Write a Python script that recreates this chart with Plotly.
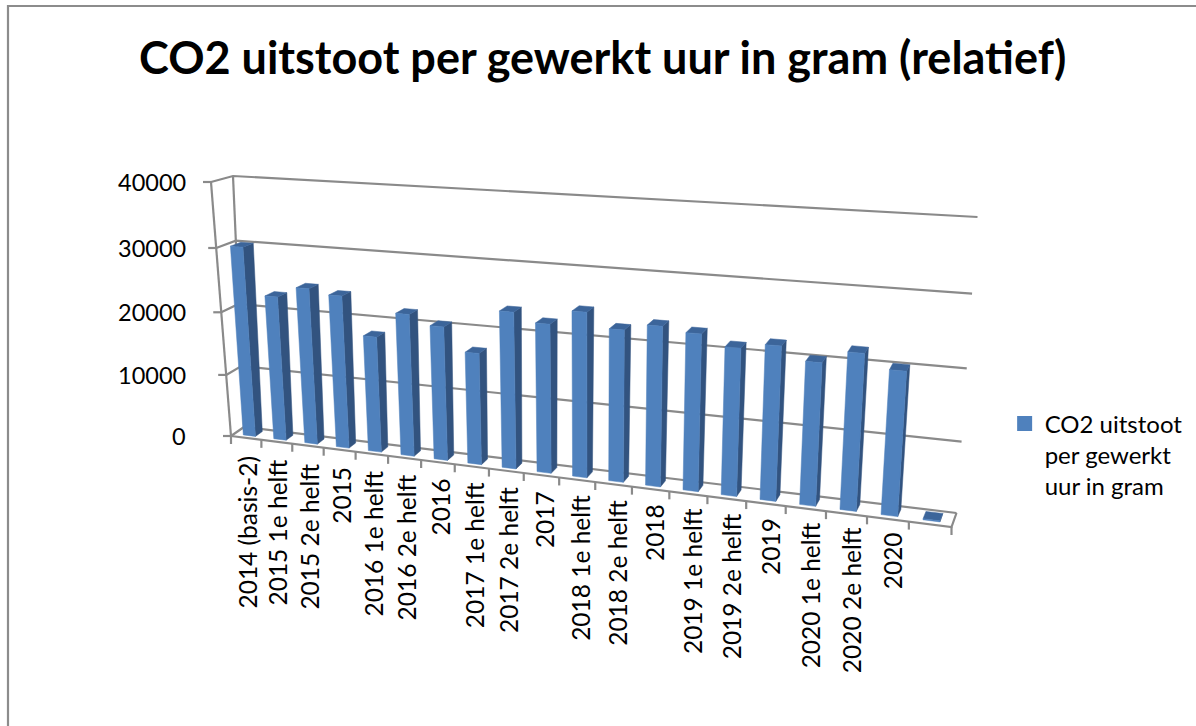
import numpy as np
import plotly.graph_objects as go

categories = ["2014 (basis-2)", "2015 1e helft", "2015 2e helft", "2015",
              "2016 1e helft", "2016 2e helft", "2016",
              "2017 1e helft", "2017 2e helft", "2017",
              "2018 1e helft", "2018 2e helft", "2018",
              "2019 1e helft", "2019 2e helft", "2019",
              "2020 1e helft", "2020 2e helft", "2020", ""]
co2_values = [30100, 22800, 24500, 23800, 18000, 21900, 20500, 17000, 23600, 22300,
              24500, 22400, 23400, 22800, 21300, 22100, 20300, 22100, 20200, 150]
value_ticks = [0, 10000, 20000, 30000, 40000]
series_name = "CO2 uitstoot<br>per gewerkt<br>uur in gram"
title_text = "CO2 uitstoot per gewerkt uur in gram (relatief)"

VMAX = value_ticks[-1]
FONT = "Lato"
N = len(categories)
GRID = "#8a8a8a"


def homography(corners):
    """unit square (t, u) -> pixel plane; corners: (0,0), (1,0), (1,1), (0,1)."""
    src = [(0, 0), (1, 0), (1, 1), (0, 1)]
    A, b = [], []
    for (s, u), (x, y) in zip(src, corners):
        A.append([s, u, 1, 0, 0, 0, -s * x, -u * x])
        A.append([0, 0, 0, s, u, 1, -s * y, -u * y])
        b += [x, y]
    return np.append(np.linalg.solve(np.array(A, float), np.array(b, float)), 1).reshape(3, 3)


H_FRONT = homography([(231, 436), (951.5, 527), (973.5, 226), (211, 182)])
H_BACK = homography([(244, 427), (956.5, 513), (977.5, 217), (233, 176)])


def project(t, v, d):
    """t: 0..1 along categories, v: value, d: 0 front .. 1 back."""
    out = []
    for H in (H_FRONT, H_BACK):
        p = H @ np.array([t, v / VMAX, 1.0])
        out.append(p[:2] / p[2])
    return tuple(out[0] * (1 - d) + out[1] * d)


def poly(points):
    xs, ys = zip(*points)
    return list(xs) + [xs[0], None], list(ys) + [ys[0], None]


fig = go.Figure()


def line(points, width=2.2, color=GRID):
    xs, ys = zip(*points)
    fig.add_trace(go.Scatter(x=xs, y=ys, mode="lines", showlegend=False, hoverinfo="skip",
                             line=dict(color=color, width=width)))


# frame of the chart area
line([(8, 726), (8, 6), (1196, 6)], 2.2, "#8c8c8c")

# walls and floor
for v in value_ticks:
    line([project(0, v, 0), project(0, v, 1), project(1, v, 1)])
    fx, fy = project(0, v, 0)
    line([(fx - 8, fy), (fx, fy)])
line([project(0, 0, 0), project(0, VMAX, 0)])
line([project(0, 0, 1), project(0, VMAX, 1)])
line([project(0, 0, 0), project(1, 0, 0), project(1, 0, 1)])
for i in range(N + 1):
    tx, ty = project(i / N, 0, 0)
    line([(tx, ty), (tx, ty + 8)])

# bars
D0, D1 = 0.25, 0.78
WIDTH = 0.4
fronts, sides, tops = ([], []), ([], []), ([], [])
for i, v in enumerate(co2_values):
    t0 = (i + 0.5 - WIDTH / 2) / N
    t1 = (i + 0.5 + WIDTH / 2) / N
    for store, pts in (
        (fronts, [project(t0, 0, D0), project(t1, 0, D0), project(t1, v, D0), project(t0, v, D0)]),
        (sides, [project(t1, 0, D0), project(t1, 0, D1), project(t1, v, D1), project(t1, v, D0)]),
        (tops, [project(t0, v, D0), project(t1, v, D0), project(t1, v, D1), project(t0, v, D1)]),
    ):
        xs, ys = poly(pts)
        store[0].extend(xs)
        store[1].extend(ys)

for store, color in ((sides, "#32537f"), (tops, "#3c659a"), (fronts, "#4f81bd")):
    fig.add_trace(go.Scatter(x=store[0], y=store[1], mode="lines", fill="toself", fillcolor=color,
                             line=dict(color=color, width=0.5), showlegend=False, hoverinfo="skip"))

# legend entry
fig.add_trace(go.Scatter(x=[None], y=[None], mode="markers", name=series_name,
                         marker=dict(symbol="square", size=15, color="#4f81bd")))

annotations = []
for v in value_ticks:
    fx, fy = project(0, v, 0)
    annotations.append(dict(x=188, y=fy, text=str(v), showarrow=False, xanchor="right",
                            yanchor="middle", font=dict(family=FONT, size=23.5, color="#000")))
for i, c in enumerate(categories):
    if not c:
        continue
    tx, ty = project((i + 0.5) / N, 0, 0)
    annotations.append(dict(x=tx + 1 + 5 * i / N, y=ty + 16 - 5 * i / N, text=c, showarrow=False, textangle=-90,
                            xanchor="center", yanchor="top",
                            font=dict(family=FONT, size=24.5, color="#000")))

fig.update_layout(
    width=1196, height=726, margin=dict(l=0, r=0, t=0, b=0),
    paper_bgcolor="white", plot_bgcolor="white",
    xaxis=dict(range=[0, 1196], visible=False, fixedrange=True),
    yaxis=dict(range=[726, 0], visible=False, fixedrange=True),
    title=dict(text=title_text, x=0.504, xanchor="center", y=0.92, yanchor="middle",
               font=dict(family=FONT, size=45, color="#000", weight="bold")),
    legend=dict(x=0.84, y=0.447, xanchor="left", yanchor="top", bgcolor="rgba(0,0,0,0)", valign="top",
                font=dict(family=FONT, size=24, color="#000"), itemwidth=30, borderwidth=0),
    annotations=annotations,
)
fig.write_html("out.html", post_script="document.body.style.margin='0';",
               config={"displayModeBar": False})
